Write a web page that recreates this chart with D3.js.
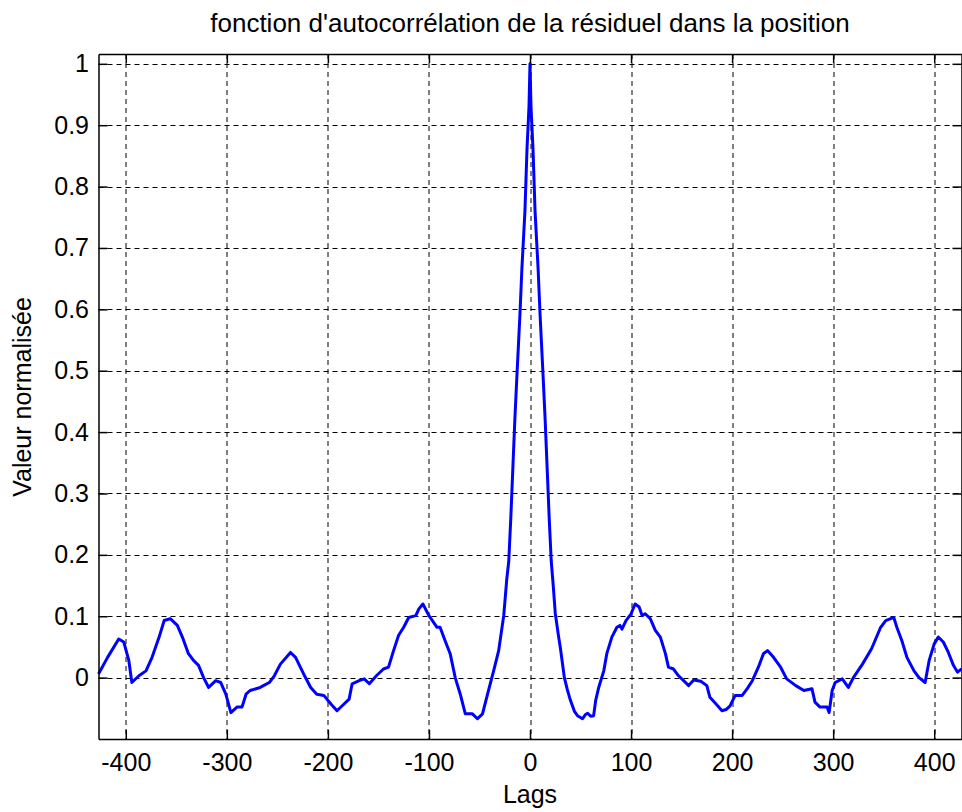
<!DOCTYPE html>
<html>
<head>
<meta charset="utf-8">
<script src="https://cdn.jsdelivr.net/npm/d3@7"></script>
<style>
  body { margin: 0; background: #fff; }
  svg { display: block; font-family: "Liberation Sans", Arial, sans-serif; }
  .axis text { font-size: 25px; fill: #000; }
  .axis path, .axis line { stroke: #000; }
</style>
</head>
<body>
<svg id="chart" width="962" height="812"></svg>
<script>
// lags, left half then right half
const lags = [
  -427, -418, -407, -402, -397, -394, -387, -380, -374, -367, -362, -356, -349, -344, -338, -333,
  -328, -323, -318, -311, -306, -301, -296, -290, -285, -281, -277, -267, -258, -253, -247, -237,
  -232, -224, -217, -211, -204, -197, -191, -184, -179, -176, -169, -164, -159, -152, -145, -140,
  -135, -130, -125, -120, -113, -110, -106, -100, -92, -89, -84, -79, -74, -69, -64, -57,
  -52, -47, -42, -36, -31, -26, -23, -21, -19, -17, -15, -13, -10, -8, -5, -3, -1,
  0,
  1, 3, 5, 8, 10, 13, 15, 17, 19, 21, 23, 25, 28, 30, 34, 37, 40, 44, 47, 52, 55, 57, 60, 63,
  65, 68, 73, 76, 81, 86, 89, 91, 95, 100, 104, 108, 111, 114, 119, 124, 129, 134, 137, 142,
  147, 152, 157, 162, 169, 175, 178, 183, 190, 194, 198, 203, 210, 215, 220, 226, 231, 235,
  241, 248, 254, 263, 271, 279, 282, 287, 294, 296, 299, 302, 309, 315, 320, 329, 338, 347,
  352, 360, 363, 368, 373, 380, 385, 391, 395, 400, 404, 409, 414, 419, 423, 427
];
const acf = [
  0.006, 0.033, 0.063, 0.058, 0.028, -0.008, 0.003, 0.011, 0.033, 0.066, 0.093, 0.096, 0.085, 0.066, 0.039, 0.028,
  0.020, 0.000, -0.016, -0.005, -0.008, -0.027, -0.057, -0.048, -0.048, -0.027, -0.021, -0.016, -0.008, 0.003, 0.022, 0.041,
  0.033, 0.006, -0.016, -0.027, -0.029, -0.043, -0.054, -0.043, -0.035, -0.010, -0.005, -0.002, -0.010, 0.003, 0.014, 0.017,
  0.044, 0.069, 0.082, 0.098, 0.101, 0.112, 0.120, 0.101, 0.082, 0.082, 0.060, 0.039, 0.000, -0.027, -0.059, -0.059,
  -0.067, -0.059, -0.027, 0.011, 0.044, 0.101, 0.160, 0.190, 0.260, 0.340, 0.420, 0.490, 0.590, 0.667, 0.760, 0.860, 0.930,
  1.000,
  0.930, 0.860, 0.760, 0.667, 0.590, 0.490, 0.420, 0.340, 0.260, 0.190, 0.150, 0.105, 0.070, 0.049, 0.000, -0.020, -0.037, -0.055, -0.062, -0.067, -0.060, -0.058, -0.063, -0.062,
  -0.037, -0.016, 0.011, 0.039, 0.066, 0.082, 0.085, 0.079, 0.093, 0.104, 0.120, 0.115, 0.101, 0.104, 0.096, 0.077, 0.066, 0.039, 0.017, 0.014,
  0.003, -0.005, -0.013, -0.004, -0.006, -0.013, -0.032, -0.041, -0.054, -0.052, -0.046, -0.029, -0.029, -0.018, -0.005, 0.017, 0.039, 0.044,
  0.033, 0.017, -0.002, -0.013, -0.021, -0.018, -0.040, -0.048, -0.048, -0.057, -0.021, -0.008, -0.002, -0.016, 0.000, 0.022, 0.047, 0.082,
  0.093, 0.098, 0.082, 0.060, 0.033, 0.011, 0.000, -0.008, 0.028, 0.055, 0.066, 0.058, 0.041, 0.020, 0.009, 0.014
];
const xTicks = [-400, -300, -200, -100, 0, 100, 200, 300, 400];
const yTicks = [0, 0.1, 0.2, 0.3, 0.4, 0.5, 0.6, 0.7, 0.8, 0.9, 1];

const margin = {top: 54, right: 0.5, bottom: 73, left: 98.5};
const width = 962 - margin.left - margin.right;
const height = 812 - margin.top - margin.bottom;

const svg = d3.select('#chart');
const chart = svg.append('g')
  .attr('transform', `translate(${margin.left}, ${margin.top})`);

const xScale = d3.scaleLinear().domain([-427, 427]).range([0, width]);
const yScale = d3.scaleLinear().domain([-0.1, 1.016]).range([height, 0]);

// matlab style labels use a plain hyphen
const fmt = d => String(d);

// dashed grid
const grid = chart.append('g')
  .attr('stroke', '#000')
  .attr('stroke-width', 1)
  .attr('stroke-dasharray', '5,4');
grid.selectAll('.vg').data(xTicks).join('line')
  .attr('x1', d => Math.round(xScale(d)) + 0.5).attr('x2', d => Math.round(xScale(d)) + 0.5)
  .attr('y1', 0).attr('y2', height);
grid.selectAll('.hg').data(yTicks).join('line')
  .attr('x1', 0).attr('x2', width)
  .attr('y1', d => Math.round(yScale(d)) + 0.5).attr('y2', d => Math.round(yScale(d)) + 0.5);

// curve
const line = d3.line()
  .x((d, i) => xScale(lags[i]))
  .y(d => yScale(d));
chart.append('path')
  .datum(acf)
  .attr('fill', 'none')
  .attr('stroke', '#0000ff')
  .attr('stroke-width', 3)
  .attr('stroke-linejoin', 'round')
  .attr('d', line);

// axes, ticks pointing inwards like matlab
chart.append('g').attr('class', 'axis')
  .attr('transform', `translate(0, ${height})`)
  .call(d3.axisBottom(xScale).tickValues(xTicks).tickSize(-9).tickPadding(14).tickSizeOuter(0).tickFormat(fmt))
  .call(g => g.selectAll('line,path').attr('stroke-width', 1.5));
chart.append('g').attr('class', 'axis')
  .call(d3.axisTop(xScale).tickValues(xTicks).tickSize(-9).tickFormat('').tickSizeOuter(0))
  .call(g => g.selectAll('line,path').attr('stroke-width', 1.5));
chart.append('g').attr('class', 'axis')
  .call(d3.axisLeft(yScale).tickValues(yTicks).tickSize(-9).tickPadding(9.5).tickSizeOuter(0).tickFormat(fmt))
  .call(g => g.selectAll('line,path').attr('stroke-width', 1.5));
chart.append('g').attr('class', 'axis')
  .attr('transform', `translate(${width}, 0)`)
  .call(d3.axisRight(yScale).tickValues(yTicks).tickSize(-9).tickFormat('').tickSizeOuter(0))
  .call(g => g.selectAll('line,path').attr('stroke-width', 1.5));

// labels
svg.append('text')
  .attr('x', margin.left + width / 2)
  .attr('y', 32)
  .attr('text-anchor', 'middle')
  .attr('font-size', 26)
  .text("fonction d'autocorrélation de la résiduel dans la position");

svg.append('text')
  .attr('x', margin.left + width / 2)
  .attr('y', 803)
  .attr('text-anchor', 'middle')
  .attr('font-size', 25)
  .text('Lags');

svg.append('text')
  .attr('transform', `translate(31, ${margin.top + height / 2 + 0.5}) rotate(-90)`)
  .attr('text-anchor', 'middle')
  .attr('font-size', 25)
  .text('Valeur normalisée');
</script>
</body>
</html>
